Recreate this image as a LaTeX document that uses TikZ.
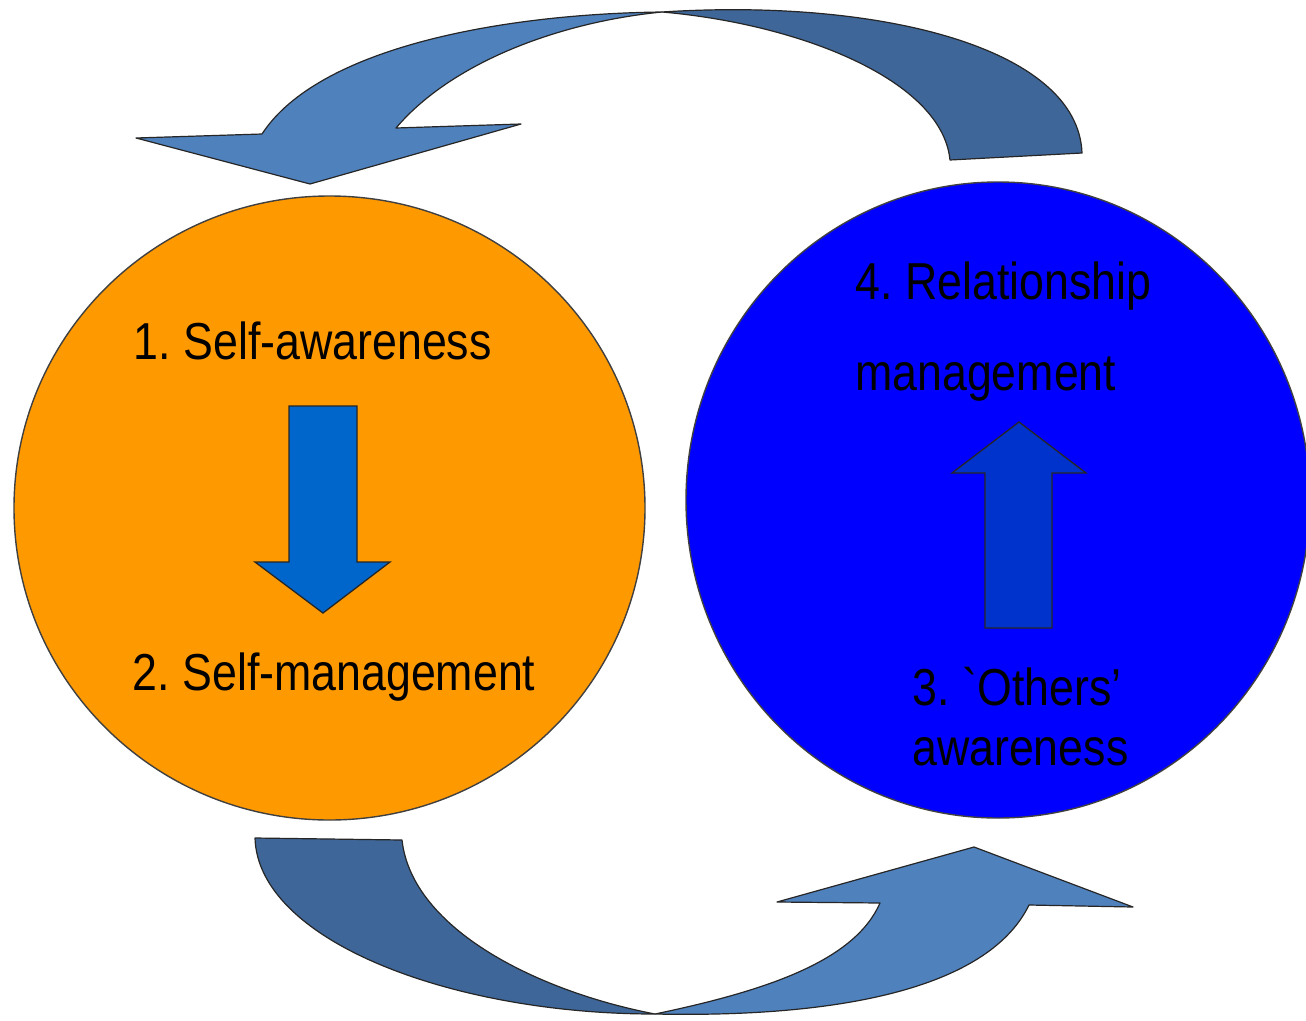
\documentclass[tikz,border=0pt]{standalone}
\usepackage{fontspec}
\newfontfamily\labelfont[FakeStretch=0.86]{Liberation Sans}
\definecolor{selfcol}{RGB}{255,153,0}
\definecolor{othercol}{RGB}{0,0,255}
\definecolor{downcol}{RGB}{0,102,204}
\definecolor{upcol}{RGB}{0,51,204}
\definecolor{ribbonlight}{RGB}{79,129,189}
\definecolor{ribbondark}{RGB}{62,102,152}
\tikzset{
  disc/.style={draw=black!75, line width=1.4pt},
  blockarrow/.style={draw=black!85, line width=1.3pt, line join=miter},
  ribbon/.style={draw=black!85, line width=1.2pt, line join=round},
  label/.style={anchor=base west, inner sep=0pt, text=black,
    font=\labelfont\fontsize{52}{60}\selectfont,
    execute at begin node={\spaceskip=0.17em\relax}}
}
\begin{document}
\begin{tikzpicture}[x=1pt,y=-1pt]
\useasboundingbox (0,0) rectangle (1306,1020);
\clip (0,0) rectangle (1306,1020);
\fill[white] (0,0) rectangle (1306,1020);

% the two circles
\fill[selfcol] (329.5,508) ellipse [x radius=315.5, y radius=312];
\draw[disc] (329.5,508) ellipse [x radius=315.5, y radius=312];
\fill[othercol] (998,500) ellipse [x radius=312, y radius=318];
\draw[disc] (998,500) ellipse [x radius=312, y radius=318];

% block arrow: self-awareness -> self-management
\filldraw[blockarrow, fill=downcol]
  (289,406) -- (357,406) -- (357,562) -- (390,562) -- (323,613)
  -- (255,562) -- (289,562) -- cycle;

% block arrow: others' awareness -> relationship management
\filldraw[blockarrow, fill=upcol]
  (985,628) -- (1052,628) -- (1052,473) -- (1086,473) -- (1019,422)
  -- (952,473) -- (985,473) -- cycle;

% top ribbon: back half (right)
\filldraw[ribbon, fill=ribbondark]
  (662,12) .. controls (880,-2) and (1078,48) .. (1082,153)
  -- (950,160)
  .. controls (942,80) and (800,24) .. (662,12) -- cycle;
% top ribbon: front half with head (left)
\filldraw[ribbon, fill=ribbonlight]
  (662,12) .. controls (500,14) and (318,48) .. (262,134)
  -- (136,138) -- (310,184) -- (521,124) -- (396,128)
  .. controls (452,62) and (560,22) .. (662,12) -- cycle;

% bottom ribbon: back half (left)
\filldraw[ribbon, fill=ribbondark]
  (255,838) -- (402,840)
  .. controls (412,930) and (540,992) .. (655,1014)
  .. controls (450,1014) and (258,940) .. (255,838) -- cycle;
% bottom ribbon: front half with head (right)
\filldraw[ribbon, fill=ribbonlight]
  (655,1014) .. controls (770,990) and (855,960) .. (880,903)
  -- (777,902) -- (974,847) -- (1133,907) -- (1029,905)
  .. controls (990,985) and (850,1018) .. (655,1014) -- cycle;

% labels
\node[label] (sa) at (133,359) {1. Self-awareness};
\node[label] (sm) at (132,690) {2. Self-management};
\node[label] (rm1) at (855,299) {4. Relationship};
\node[label] (rm2) at (855,390) {management};
\node[label] (oa1) at (912,705) {3. \char"0060 Others’};
\node[label] (oa2) at (912,765) {awareness};
\end{tikzpicture}
\end{document}
